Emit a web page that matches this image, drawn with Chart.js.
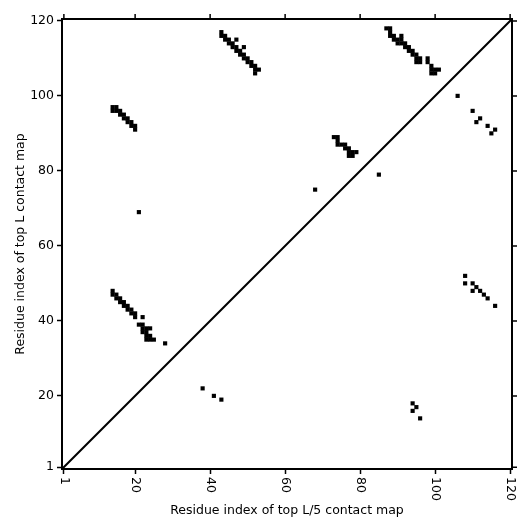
<!DOCTYPE html>
<html>
<head>
<meta charset="utf-8">
<script src="https://cdn.jsdelivr.net/npm/chart.js@4.4.1/dist/chart.umd.min.js"></script>
<style>
  html, body { margin: 0; padding: 0; background: #fff; }
</style>
</head>
<body>
<canvas id="contactCanvas" width="532" height="532"></canvas>
<script>
// Contacts above the diagonal (top L contact map)
var topLX = [14,15,14,15,16,16,17,17,18,18,19,19,20,20,
             21,
             14,14,15,15,16,16,17,17,18,18,19,19,20,20,22,21,22,22,23,24,22,23,23,24,23,24,25,28,
             43,43,44,44,45,45,46,47,46,47,47,48,49,48,49,49,50,50,51,51,52,53,52,52,
             73,74,74,74,75,76,76,77,77,78,79,78,77,
             68,
             87,88,88,88,89,89,90,90,91,91,91,92,92,93,93,94,94,95,95,96,95,96,98,98,99,99,100,101,99,100];
var topLY = [97,97,96,96,96,95,95,94,94,93,93,92,92,91,
             69,
             48,47,47,46,46,45,45,44,44,43,43,42,42,41,41,39,39,38,38,38,37,37,36,36,35,35,35,34,
             117,116,116,115,115,114,114,115,113,113,112,112,113,111,111,110,110,109,109,108,108,107,107,106,
             89,89,88,87,87,87,86,86,85,85,85,84,84,
             75,
             118,118,117,116,116,115,115,114,116,115,114,114,113,113,112,112,111,111,110,110,109,109,110,109,108,107,107,107,106,106];

// Contacts below the diagonal (top L/5 contact map)
var topL5X = [106,110,111,112,114,115,116,
              108,108,110,111,110,112,113,114,116,
              94,95,94,96,
              38,41,43,
              85];
var topL5Y = [100,96,93,94,92,90,91,
              52,50,50,49,48,48,47,46,44,
              18,17,16,14,
              22,20,19,
              79];

var tickValues = [1, 20, 40, 60, 80, 100, 120];
var axisMin = 0.5;
var axisMax = 120.5;

function toPoints(xs, ys) {
  var pts = [];
  for (var i = 0; i < xs.length; i++) {
    pts.push({x: xs[i], y: ys[i]});
  }
  return pts;
}

// one residue = one square cell
function cellRadius(ctx) {
  var s = ctx.chart.scales.x;
  var side = Math.abs(s.getPixelForValue(1) - s.getPixelForValue(0));
  return (side + 0.4) / Math.SQRT2;
}

var FONT = "'DejaVu Sans', sans-serif";

// frame, outer ticks on top/right, rotated x labels
var framePlugin = {
  id: 'frame',
  afterDraw: function(chart) {
    var ctx = chart.ctx;
    var a = chart.chartArea;
    var sx = chart.scales.x;
    var sy = chart.scales.y;
    ctx.save();
    ctx.strokeStyle = '#000';
    ctx.lineWidth = 1.5;
    ctx.beginPath();
    tickValues.forEach(function(v) {
      var px = sx.getPixelForValue(v);
      ctx.moveTo(px, a.top);
      ctx.lineTo(px, a.top - 5);
      var py = sy.getPixelForValue(v);
      ctx.moveTo(a.right, py);
      ctx.lineTo(a.right + 5, py);
    });
    ctx.stroke();
    ctx.lineWidth = 2;
    ctx.strokeRect(a.left, a.top, a.right - a.left, a.bottom - a.top);

    ctx.fillStyle = '#000';
    ctx.font = '12.5px ' + FONT;
    ctx.textAlign = 'left';
    ctx.textBaseline = 'middle';
    tickValues.forEach(function(v) {
      var px = sx.getPixelForValue(v);
      ctx.save();
      ctx.translate(px, a.bottom + 8);
      ctx.rotate(Math.PI / 2);
      ctx.fillText(String(v), 0, 0);
      ctx.restore();
    });
    ctx.restore();
  }
};

var dataGraph = {
  type: 'scatter',
  data: {
    datasets: [
      {
        label: 'diagonal',
        type: 'line',
        data: [{x: axisMin, y: axisMin}, {x: axisMax, y: axisMax}],
        borderColor: '#000',
        borderWidth: 2,
        pointRadius: 0,
        fill: false,
      },
      {
        label: 'top L',
        data: toPoints(topLX, topLY),
        pointStyle: 'rect',
        pointRadius: cellRadius,
        backgroundColor: '#000',
        borderWidth: 0,
      },
      {
        label: 'top L/5',
        data: toPoints(topL5X, topL5Y),
        pointStyle: 'rect',
        pointRadius: cellRadius,
        backgroundColor: '#000',
        borderWidth: 0,
      },
    ]
  },
  options: {
    responsive: false,
    animation: false,
    devicePixelRatio: 1,
    events: [],
    layout: {
      padding: { left: 0, right: 20, top: 19, bottom: 0 }
    },
    scales: {
      x: {
        type: 'linear',
        min: axisMin,
        max: axisMax,
        afterBuildTicks: function(s) { s.ticks = tickValues.map(function(v) { return {value: v}; }); },
        afterFit: function(s) { s.height = 63; },
        ticks: { display: false },
        grid: { drawOnChartArea: false, drawTicks: true, tickLength: 5, tickWidth: 1.5, tickColor: '#000' },
        border: { display: false },
        title: {
          display: true,
          text: 'Residue index of top L/5 contact map',
          color: '#000',
          font: { family: FONT, size: 12.5 },
          padding: { top: 0, bottom: 14 }
        }
      },
      y: {
        type: 'linear',
        min: axisMin,
        max: axisMax,
        afterBuildTicks: function(s) { s.ticks = tickValues.map(function(v) { return {value: v}; }); },
        afterFit: function(s) { s.width = 62; },
        ticks: {
          color: '#000',
          font: { family: FONT, size: 12.5 },
          padding: 3,
          autoSkip: false,
          callback: function(v) { return String(v); }
        },
        grid: { drawOnChartArea: false, drawTicks: true, tickLength: 5, tickWidth: 1.5, tickColor: '#000' },
        border: { display: false },
        title: {
          display: true,
          text: 'Residue index of top L contact map',
          color: '#000',
          font: { family: FONT, size: 12.5 },
          padding: { top: 13, bottom: 0 }
        }
      }
    },
    plugins: {
      legend: { display: false },
      tooltip: { enabled: false }
    }
  },
  plugins: [framePlugin]
};

var myChart = new Chart(document.getElementById('contactCanvas'), dataGraph);
</script>
</body>
</html>
